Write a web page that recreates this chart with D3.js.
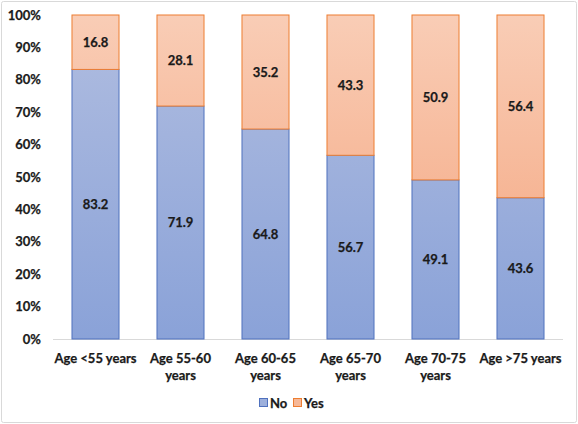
<!DOCTYPE html>
<html><head><meta charset="utf-8">
<script src="https://cdn.jsdelivr.net/npm/d3@7"></script>
<style>body{margin:0;background:#fff;} text{font-family:Lato,"Open Sans",sans-serif;font-weight:bold;fill:#1a1a1a;stroke:#1a1a1a;stroke-width:0.25px;}</style>
</head><body>
<svg id="c" width="578" height="424"></svg>
<script>
const categories = [["Age <55 years"],["Age 55-60","years"],["Age 60-65","years"],["Age 65-70","years"],["Age 70-75","years"],["Age >75 years"]];
const noValues = [83.2, 71.9, 64.8, 56.7, 49.1, 43.6];
const yesValues = [16.8, 28.1, 35.2, 43.3, 50.9, 56.4];
const yTicks = [0,10,20,30,40,50,60,70,80,90,100];
const seriesNames = ["No","Yes"];

const svg = d3.select("#c");
const defs = svg.append("defs");
function grad(id, c1, c2){
  const g = defs.append("linearGradient").attr("id",id).attr("x1",0).attr("x2",0).attr("gradientUnits","userSpaceOnUse");
  g.attr("y1",15).attr("y2",339);
  g.append("stop").attr("offset","0%").attr("stop-color",c1);
  g.append("stop").attr("offset","100%").attr("stop-color",c2);
}
grad("gNo","#b0bde0","#8aa2d8");
grad("gYes","#f9cdb6","#f4a37c");

svg.append("rect").attr("x",1.5).attr("y",1.5).attr("width",575).attr("height",421).attr("fill","#fff").attr("stroke","#d9d9d9").attr("rx",2);

const x = d3.scaleBand().domain(categories.map((d,i)=>i)).range([53,563]).paddingInner(0.435).paddingOuter(0.2175);
const y = d3.scaleLinear().domain([0,100]).range([339,15]);

const fs = "13px";
svg.append("g").selectAll("text").data(yTicks).join("text")
  .attr("x",41).attr("y",d=>y(d)).attr("dy","0.35em").attr("text-anchor","end")
  .style("font-size",fs).text(d=>d+"%");

svg.append("line").attr("x1",53).attr("x2",563).attr("y1",339.5).attr("y2",339.5).attr("stroke","#d9d9d9");

const data = categories.map((c,i)=>({i, no:noValues[i], yes:yesValues[i]}));
const g = svg.append("g");
g.selectAll("rect.no").data(data).join("rect").attr("class","no")
  .attr("x",d=>x(d.i)+0.5).attr("width",x.bandwidth()-1)
  .attr("y",d=>y(d.no)).attr("height",d=>y(0)-y(d.no))
  .attr("fill","url(#gNo)").attr("stroke","#4f71be").attr("stroke-width",1);
g.selectAll("rect.yes").data(data).join("rect").attr("class","yes")
  .attr("x",d=>x(d.i)+0.5).attr("width",x.bandwidth()-1)
  .attr("y",d=>y(d.no+d.yes)).attr("height",d=>y(d.no)-y(d.no+d.yes))
  .attr("fill","url(#gYes)").attr("stroke","#ed7d31").attr("stroke-width",1);

g.selectAll("text.nl").data(data).join("text")
  .attr("x",d=>x(d.i)+x.bandwidth()/2).attr("y",d=>y(d.no/2)).attr("dy","0.35em")
  .attr("text-anchor","middle").style("font-size",fs).text(d=>d.no.toFixed(1));
g.selectAll("text.yl").data(data).join("text")
  .attr("x",d=>x(d.i)+x.bandwidth()/2).attr("y",d=>y(d.no+d.yes/2)).attr("dy","0.35em")
  .attr("text-anchor","middle").style("font-size",fs).text(d=>d.yes.toFixed(1));

const cl = svg.append("g").selectAll("text").data(categories).join("text")
  .attr("x",(d,i)=>x(i)+x.bandwidth()/2).attr("y",358)
  .attr("text-anchor","middle").style("font-size",fs);
cl.each(function(d,i){
  const t = d3.select(this);
  d.forEach((line,k)=>{
    t.append("tspan").attr("x",x(i)+x.bandwidth()/2).attr("dy",k===0?"0.35em":"17px").text(line);
  });
});

const leg = svg.append("g");
const lx = [259, 293];
const colors = [["#4f71be","#9db0dc"],["#ed7d31","#f6b898"]];
seriesNames.forEach((n,k)=>{
  leg.append("rect").attr("x",lx[k]+0.5).attr("y",398.5).attr("width",8).attr("height",8)
    .attr("fill",colors[k][1]).attr("stroke",colors[k][0]);
  leg.append("text").attr("x",lx[k]+11).attr("y",403).attr("dy","0.35em").style("font-size",fs).text(n);
});
</script>
</body></html>
